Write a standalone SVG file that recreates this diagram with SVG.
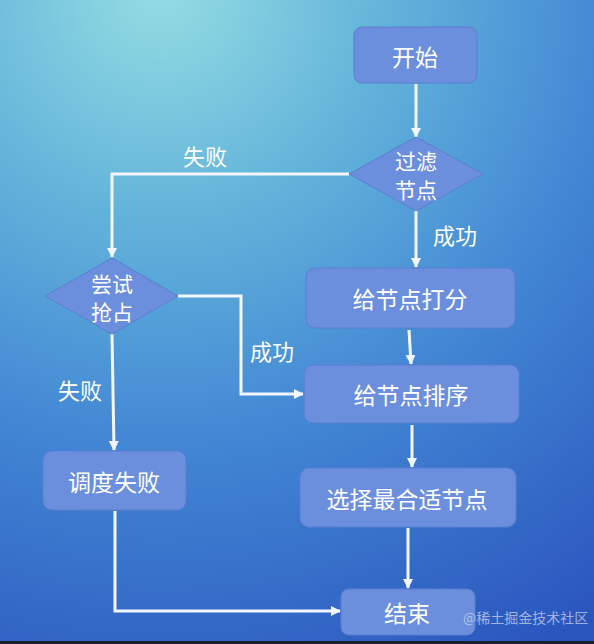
<svg xmlns="http://www.w3.org/2000/svg" width="594" height="644" viewBox="0 0 594 644">
<defs>
<radialGradient id="bg" gradientUnits="userSpaceOnUse" cx="160" cy="-10" r="760">
<stop offset="0" stop-color="#95dde2"/>
<stop offset="0.3" stop-color="#62b3da"/>
<stop offset="0.6" stop-color="#4286d4"/>
<stop offset="1" stop-color="#2a55bd"/>
</radialGradient>
<marker id="ah" viewBox="0 0 10 10" refX="9" refY="5" markerWidth="10" markerHeight="10" markerUnits="userSpaceOnUse" orient="auto">
<path d="M0,0 L10,5 L0,10 z" fill="#f2f6ff"/>
</marker>
<style>
.box{fill:#6b8fdc;stroke:#5b7fd2;stroke-width:1}
.t{font-family:"Noto Sans CJK SC","Noto Sans",sans-serif;font-size:23px;fill:#ffffff;text-anchor:middle;dominant-baseline:central}
.d{font-family:"Noto Sans CJK SC","Noto Sans",sans-serif;font-size:21px;fill:#ffffff;text-anchor:middle;dominant-baseline:central}
.lbl{font-family:"Noto Sans CJK SC","Noto Sans",sans-serif;font-size:22px;fill:#ffffff;text-anchor:middle;dominant-baseline:central}
.c{fill:none;stroke:#f2f6ff;stroke-width:3;marker-end:url(#ah)}
.wm{font-family:"Noto Sans CJK SC",sans-serif;font-size:14px;fill:#c8d2e8;opacity:0.75}
</style>
</defs>
<rect width="594" height="644" fill="url(#bg)"/>
<rect y="641" width="594" height="3" fill="#1a1f2e"/>
<g id="connectors">
<path class="c" d="M416,84 L416,137"/>
<path class="c" d="M416,211 L416,267"/>
<path class="c" d="M409,330 L411,364"/>
<path class="c" d="M412,425 L412,467"/>
<path class="c" d="M408,528 L408,588"/>
<path class="c" d="M349,174 L112,174 L112,257"/>
<path class="c" d="M178,296 L241,296 L241,394 L303,394"/>
<path class="c" d="M112,334 L114,450"/>
<path class="c" d="M115,511 L115,611 L340,611"/>
<text class="lbl" x="205" y="155">失败</text>
<text class="lbl" x="455" y="234">成功</text>
<text class="lbl" x="272" y="350">成功</text>
<text class="lbl" x="80" y="389">失败</text>
</g>
<g id="start">
<rect class="box" x="354" y="27" width="123" height="56" rx="8"/>
<text class="t" x="415" y="56">开始</text>
</g>
<g id="filter">
<polygon class="box" points="416,137 483,174 416,211 349,174"/>
<text class="d" x="416" y="160">过滤</text>
<text class="d" x="416" y="189">节点</text>
</g>
<g id="score">
<rect class="box" x="306" y="268" width="209" height="60" rx="9"/>
<text class="t" x="410" y="298">给节点打分</text>
</g>
<g id="sort">
<rect class="box" x="304" y="365" width="215" height="58" rx="9"/>
<text class="t" x="411" y="394">给节点排序</text>
</g>
<g id="select">
<rect class="box" x="300" y="468" width="216" height="59" rx="9"/>
<text class="t" x="407" y="498">选择最合适节点</text>
</g>
<g id="end">
<rect class="box" x="341" y="589" width="134" height="46" rx="8"/>
<text class="t" x="407" y="612">结束</text>
</g>
<g id="preempt">
<polygon class="box" points="112,258 178,296 112,334 45,296"/>
<text class="d" x="112" y="283">尝试</text>
<text class="d" x="112" y="311">抢占</text>
</g>
<g id="fail">
<rect class="box" x="43" y="451" width="143" height="59" rx="9"/>
<text class="t" x="114" y="481">调度失败</text>
</g>
<text class="wm" x="463" y="623">@稀土掘金技术社区</text>
</svg>
